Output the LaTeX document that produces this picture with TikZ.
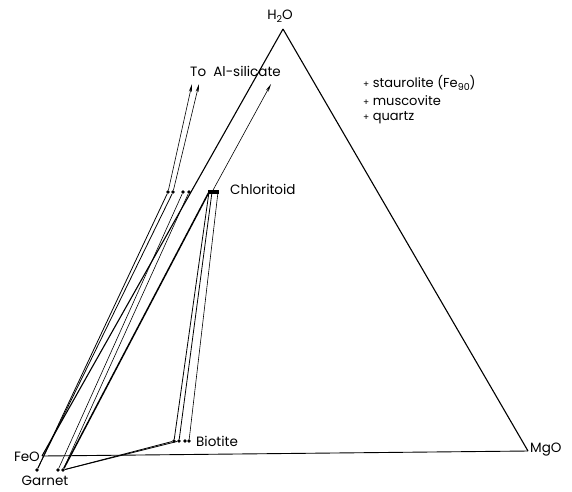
\documentclass[tikz,border=0pt]{standalone}
\usepackage{fontspec}
\setmainfont{Poppins}
\usetikzlibrary{arrows.meta}
\newcommand\mysub[1]{\raisebox{-0.45ex}{\fontsize{9.5}{9.5}\selectfont #1}}
\begin{document}
\begin{tikzpicture}[x=1pt,y=-1pt,
  edge/.style={line width=1.1pt},
  thinline/.style={line width=0.6pt},
  midline/.style={line width=0.8pt},
  thickline/.style={line width=1.5pt},
  dot/.style={circle,fill=black,inner sep=0pt,minimum size=3.6pt},
  lbl/.style={font=\fontsize{13.5}{15}\selectfont, inner sep=0pt},
  leg/.style={font=\fontsize{13}{15}\selectfont, inner sep=0pt, anchor=west},
  arr/.style={line width=0.6pt,-{Stealth[length=8pt,width=3pt]}}]
\useasboundingbox (0,0) rectangle (572,491);
% triangle vertices
\coordinate (H) at (283,29);
\coordinate (F) at (42,456);
\coordinate (M) at (528,451);
\draw[edge] (H) -- (F);
\draw[edge] (H) -- (M);
\draw[line width=0.9pt] (F) -- (M);
% chloritoid dots
\node[dot] (L1) at (168,192) {};
\node[dot] (L2) at (173,192) {};
\node[dot] (M1) at (183,192) {};
\node[dot] (M2) at (189,192) {};
\node[fill=black,minimum width=11pt,minimum height=4pt,inner sep=0pt] (C) at (213.5,192) {};
\coordinate (C1) at (209,192);
\coordinate (C2) at (212,192);
\coordinate (C3) at (218,192);
% biotite dots
\node[dot] (B1) at (174,441) {};
\node[dot] (B2) at (179,441) {};
\node[dot] (B3) at (185,441) {};
\node[dot] (B4) at (189,441) {};
% garnet dots
\node[dot] (G1) at (37,470) {};
\node[dot] (G2) at (58,470) {};
\node[dot] (G3) at (63,470) {};
% arrow end points
\coordinate (A1) at (192,84);
\coordinate (A2) at (199,84);
\coordinate (A3) at (271,84);
% arrows to Al-silicate
\draw[arr] (L1) -- (A1);
\draw[arr] (L2) -- (A2);
\draw[arr] (C2) -- (A3);
% garnet - chloritoid
\draw[midline] (G1) -- (L1);
\draw[midline] (G1) -- (L2);
\draw[thinline] (G2) -- (M1);
\draw[thinline] (G3) -- (M2);
\draw[thickline] (G3) -- (C1);
% chloritoid - biotite
\draw[midline] (C1) -- (B1);
\draw[midline] (C2) -- (B2);
\draw[thinline] (C3) -- (B4);
% garnet - biotite
\draw[midline] (G3) -- (B1);
\draw[midline] (G3) -- (B2);
% labels
\node[lbl] (tH) at (280,16) {H\mysub{2}O};
\node[lbl,anchor=east] (tF) at (40,457) {FeO};
\node[lbl,anchor=west] (tM) at (530,450) {MgO};
\node[lbl] (tG) at (45,481) {Garnet};
\node[lbl,anchor=west] (tB) at (196,441) {Biotite};
\node[lbl,anchor=west] (tC) at (230,189) {Chloritoid};
\node[lbl,anchor=west] (tA) at (190,71) {To\ \ Al-silicate};
\node[leg] (t1) at (363,83) {{\fontsize{9}{9}\selectfont+} staurolite (Fe\mysub{90})};
\node[leg] (t2) at (363,101) {{\fontsize{9}{9}\selectfont+} muscovite};
\node[leg] (t3) at (363,118) {{\fontsize{9}{9}\selectfont+} quartz};
\end{tikzpicture}
\end{document}
